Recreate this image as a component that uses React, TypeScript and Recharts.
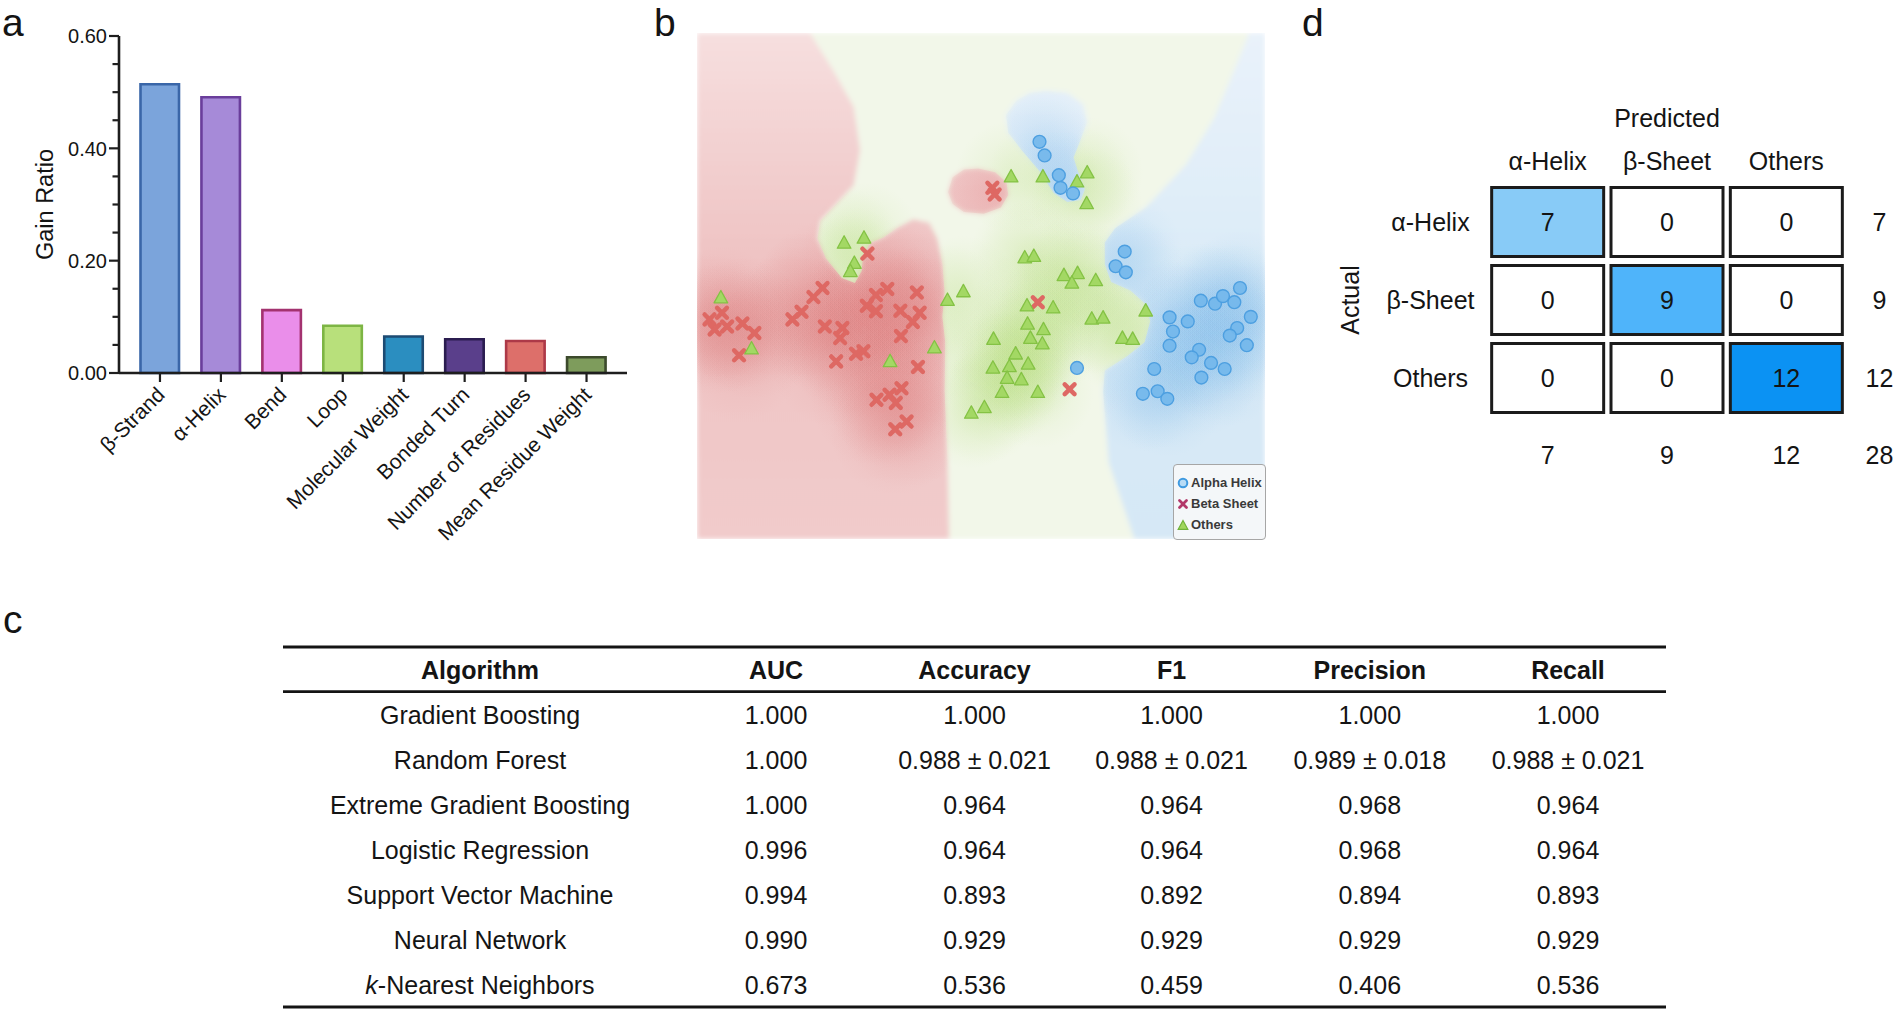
import React from "react";
import {
  Bar,
  BarChart,
  Cell,
  Legend,
  ReferenceArea,
  Scatter,
  ScatterChart,
  XAxis,
  YAxis,
} from "recharts";

const FONT = '"Liberation Sans", Arial, Helvetica, sans-serif';
const INK = "#141414";

// ---- panel a: gain ratio per feature ----
const features = [
  "β-Strand",
  "α-Helix",
  "Bend",
  "Loop",
  "Molecular Weight",
  "Bonded Turn",
  "Number of Residues",
  "Mean Residue Weight",
];
const gainRatios = [0.514, 0.491, 0.112, 0.084, 0.065, 0.06, 0.057, 0.028];
const gainTicks = [0, 0.05, 0.1, 0.15, 0.2, 0.25, 0.3, 0.35, 0.4, 0.45, 0.5, 0.55, 0.6];
const gainLabelTicks = [0, 0.2, 0.4, 0.6];

const barFills = ["#7ba4db", "#a68ad8", "#ea8eea", "#b8e07b", "#2b8ec0", "#5a3f8b", "#dd6f6a", "#7e9c5c"];
const barStrokes = ["#3a66a8", "#6a3e9b", "#a3326f", "#7db544", "#1d4b73", "#2b1d50", "#ad3948", "#3c4a2c"];

// ---- panel b: decision map (embedding units 0..100) ----
const helixPoints = [
  [60.3, 78.5], [61.2, 75.8], [63.7, 71.9], [64.0, 69.4], [66.2, 68.3],
  [75.3, 56.8], [73.7, 53.9], [75.5, 52.7], [66.9, 33.8], [95.6, 49.6],
  [88.7, 47.1], [91.2, 46.5], [92.6, 48.0], [94.6, 46.8], [97.5, 43.9],
  [83.2, 43.8], [86.4, 43.0], [83.8, 41.0], [95.1, 41.7], [93.8, 40.2],
  [96.8, 38.3], [83.2, 38.2], [88.4, 37.4], [87.1, 35.9], [90.5, 34.8],
  [92.9, 33.6], [80.5, 33.6], [88.8, 31.9], [78.5, 28.7], [81.1, 29.2],
  [82.8, 27.7],
].map(([x, y]) => ({ x, y }));

const sheetPoints = [
  [22.1, 49.6], [20.5, 47.8], [18.4, 44.9], [16.8, 43.4], [4.4, 44.7],
  [2.2, 43.4], [3.1, 41.4], [5.3, 42.0], [8.0, 42.6], [10.1, 40.7],
  [7.4, 36.3], [22.5, 42.0], [25.6, 41.7], [25.2, 39.7], [24.5, 35.1],
  [28.0, 36.6], [29.3, 37.1], [33.5, 49.4], [31.5, 48.2], [29.9, 46.1],
  [31.5, 45.0], [35.8, 45.1], [38.7, 48.7], [39.2, 44.7], [38.0, 42.9],
  [35.9, 40.1], [38.9, 34.0], [36.0, 29.8], [33.9, 28.5], [31.6, 27.5],
  [35.0, 26.9], [36.9, 23.2], [34.9, 21.7], [30.0, 56.4], [52.0, 69.4],
  [52.4, 68.1], [60.0, 46.8], [65.6, 29.6],
].map(([x, y]) => ({ x, y }));

const otherPoints = [
  [4.2, 47.7], [9.6, 37.6], [34.0, 35.1], [25.9, 58.5], [29.4, 59.5],
  [27.7, 54.5], [27.0, 52.9], [57.7, 55.6], [59.3, 55.9], [64.6, 52.1],
  [67.0, 52.5], [66.0, 50.6], [70.2, 51.1], [44.1, 47.2], [46.9, 48.9],
  [58.1, 46.1], [62.7, 45.7], [79.0, 45.1], [69.5, 43.5], [71.5, 43.7],
  [41.8, 37.8], [52.2, 39.5], [58.2, 42.5], [61.0, 41.4], [58.7, 39.7],
  [60.8, 38.6], [74.9, 39.7], [76.7, 39.5], [56.1, 36.6], [52.1, 33.8],
  [55.0, 34.1], [58.3, 34.6], [54.6, 31.8], [57.1, 31.5], [53.7, 29.0],
  [60.0, 29.0], [48.3, 24.9], [50.6, 26.0], [55.3, 71.6], [60.9, 71.6],
  [66.9, 70.6], [68.7, 72.4], [68.6, 66.3],
].map(([x, y]) => ({ x, y }));

// decision region outlines in the same embedding units
const sheetRegion = [
  [0, 100], [19.9, 100], [24.1, 92.4], [27.6, 85.4], [28.7, 76.9], [27.6, 69.9],
  [24.1, 65.7], [21.7, 62.9], [21.2, 59.4], [22.7, 55.5], [25.5, 51.6], [27.8, 50.6],
  [29.0, 53.0], [29.2, 56.2], [30.6, 58.6], [32.8, 59.6], [35.3, 61.5], [38.1, 63.2],
  [40.9, 62.5], [42.3, 59.4], [43.2, 54.5], [43.6, 48.8], [43.2, 43.9], [43.7, 39.0],
  [43.6, 29.1], [44.1, 15.1], [44.4, 0], [0, 0],
];
const sheetIsland = [
  [44.2, 68.6], [45.0, 71.5], [47.0, 73.0], [49.5, 73.2], [52.5, 72.5], [54.5, 70.5],
  [54.8, 68.0], [53.5, 65.5], [50.5, 64.3], [47.0, 64.6], [45.0, 66.2],
];
const helixRegion = [
  [97.2, 100], [100, 100], [100, 0], [77.0, 0], [72.5, 15.1], [71.5, 29.1], [71.8, 33.3],
  [75.7, 36.1], [78.8, 38.9], [79.8, 43.1], [78.8, 46.6], [76.3, 49.1], [72.9, 50.8],
  [71.8, 54.3], [71.8, 58.6], [73.6, 61.4], [79.1, 65.6], [86.1, 74.0], [91.0, 83.1],
  [94.4, 92.2],
];
const helixLobe = [
  [61.4, 88.6], [65.2, 88.2], [68.0, 85.9], [68.7, 82.4], [67.3, 78.2], [66.3, 75.4],
  [67.3, 71.9], [68.3, 69.1], [67.6, 67.0], [65.2, 66.6], [62.8, 68.4], [60.4, 72.6],
  [57.2, 76.8], [54.8, 80.3], [54.4, 83.8], [56.2, 86.6], [58.6, 88.2],
];

const legendEntries = ["Alpha Helix", "Beta Sheet", "Others"];

// ---- panel c: model comparison table ----
const tableHeaders = ["Algorithm", "AUC", "Accuracy", "F1", "Precision", "Recall"];
const algorithms = [
  "Gradient Boosting",
  "Random Forest",
  "Extreme Gradient Boosting",
  "Logistic Regression",
  "Support Vector Machine",
  "Neural Network",
  "k-Nearest Neighbors",
];
const aucValues = ["1.000", "1.000", "1.000", "0.996", "0.994", "0.990", "0.673"];
const accuracyValues = ["1.000", "0.988 ± 0.021", "0.964", "0.964", "0.893", "0.929", "0.536"];
const f1Values = ["1.000", "0.988 ± 0.021", "0.964", "0.964", "0.892", "0.929", "0.459"];
const precisionValues = ["1.000", "0.989 ± 0.018", "0.968", "0.968", "0.894", "0.929", "0.406"];
const recallValues = ["1.000", "0.988 ± 0.021", "0.964", "0.964", "0.893", "0.929", "0.536"];

// ---- panel d: confusion matrix ----
const classNames = ["α-Helix", "β-Sheet", "Others"];
const confusion = [
  [7, 0, 0],
  [0, 9, 0],
  [0, 0, 12],
];
const rowTotals = [7, 9, 12];
const colTotals = [7, 9, 12];
const grandTotal = 28;

const cellFills: Record<number, string> = { 0: "#ffffff", 7: "#88cbf7", 9: "#4fb4fa", 12: "#0b92f3" };

const gainData = features.map((feature, i) => ({ feature, gain: gainRatios[i] }));
const cellData = confusion.flatMap((row, r) =>
  row.map((count, c) => ({ predicted: c + 1, actual: r + 1, count }))
);

// ---------------- panel a ----------------
const GainTick = ({ x, y, payload }: any) => {
  const major = gainLabelTicks.some((t) => Math.abs(t - payload.value) < 1e-6);
  return (
    <g>
      <line x1={x - (major ? 10 : 6.5)} x2={x} y1={y} y2={y} stroke="#1e1e1e" strokeWidth={2.2} />
      {major && (
        <text x={x - 12} y={y} dy="0.36em" textAnchor="end" fontSize={20} fill={INK} fontFamily={FONT}>
          {payload.value.toFixed(2)}
        </text>
      )}
    </g>
  );
};

const FeatureTick = ({ x, y, payload }: any) => {
  const tx = x + 6;
  const ty = y + 23;
  return (
    <g>
      <line x1={x} x2={x} y1={y} y2={y + 9} stroke="#1e1e1e" strokeWidth={2.2} />
      <text
        x={tx}
        y={ty}
        textAnchor="end"
        transform={`rotate(-45 ${tx} ${ty})`}
        fontSize={21}
        fill={INK}
        fontFamily={FONT}
      >
        {payload.value}
      </text>
    </g>
  );
};

const GainLabel = ({ viewBox }: any) => {
  const cx = viewBox.x + 45;
  const cy = viewBox.y + viewBox.height / 2;
  return (
    <text
      x={cx}
      y={cy}
      dy="0.36em"
      textAnchor="middle"
      transform={`rotate(-90 ${cx} ${cy})`}
      fontSize={23.5}
      fill={INK}
      fontFamily={FONT}
    >
      Gain Ratio
    </text>
  );
};

const GainRatioChart = () => (
  <BarChart width={640} height={560} data={gainData} margin={{ top: 36, right: 13, bottom: 0, left: 0 }}>
    <XAxis
      dataKey="feature"
      height={187}
      interval={0}
      padding={{ left: 10.5, right: 10 }}
      tickSize={0}
      tickMargin={0}
      tickLine={false}
      axisLine={{ stroke: "#1e1e1e", strokeWidth: 2.6 }}
      tick={FeatureTick}
    />
    <YAxis
      type="number"
      domain={[0, 0.6]}
      ticks={gainTicks}
      interval={0}
      width={119}
      tickSize={0}
      tickMargin={0}
      tickLine={false}
      axisLine={{ stroke: "#1e1e1e", strokeWidth: 2.6 }}
      tick={GainTick}
      label={GainLabel}
    />
    <Bar dataKey="gain" barSize={38.5} strokeWidth={2.6} isAnimationActive={false}>
      {gainData.map((d, i) => (
        <Cell key={d.feature} fill={barFills[i]} stroke={barStrokes[i]} />
      ))}
    </Bar>
  </BarChart>
);

// ---------------- panel b ----------------
const RegionLayer = ({ x, y, width, height }: any) => {
  const toPath = (poly: number[][]) =>
    poly
      .map(([px, py], i) => `${i ? "L" : "M"}${x + (px / 100) * width},${y + (1 - py / 100) * height}`)
      .join("") + "Z";
  const sheet = toPath(sheetRegion) + toPath(sheetIsland);
  const helix = toPath(helixRegion) + toPath(helixLobe);
  const plot = `M${x},${y}h${width}v${height}h${-width}Z`;
  return (
    <g>
      <defs>
        <clipPath id="clip-plot">
          <path d={plot} />
        </clipPath>
        <clipPath id="clip-sheet">
          <path d={sheet} />
        </clipPath>
        <clipPath id="clip-helix">
          <path d={helix} />
        </clipPath>
        <clipPath id="clip-other">
          <path d={plot + sheet + helix} clipRule="evenodd" />
        </clipPath>
        <linearGradient id="base-sheet" x1="0" y1="0" x2="0" y2="1">
          <stop offset="0%" stopColor="#f6dfdf" />
          <stop offset="45%" stopColor="#efc3c3" />
          <stop offset="100%" stopColor="#f1cbcb" />
        </linearGradient>
        <linearGradient id="base-helix" x1="0" y1="0" x2="0" y2="1">
          <stop offset="0%" stopColor="#e9f2fa" />
          <stop offset="55%" stopColor="#d9eaf7" />
          <stop offset="100%" stopColor="#d6e8f6" />
        </linearGradient>
        <radialGradient id="glow-sheet">
          <stop offset="0%" stopColor="#d86a6a" stopOpacity={0.13} />
          <stop offset="100%" stopColor="#d86a6a" stopOpacity={0} />
        </radialGradient>
        <radialGradient id="glow-helix">
          <stop offset="0%" stopColor="#7db9e8" stopOpacity={0.16} />
          <stop offset="100%" stopColor="#7db9e8" stopOpacity={0} />
        </radialGradient>
        <radialGradient id="glow-other">
          <stop offset="0%" stopColor="#b9de82" stopOpacity={0.21} />
          <stop offset="100%" stopColor="#b9de82" stopOpacity={0} />
        </radialGradient>
        <filter id="soften" x="-5%" y="-5%" width="110%" height="110%">
          <feGaussianBlur stdDeviation="2.5" />
        </filter>
      </defs>
      <g clipPath="url(#clip-plot)">
        <g filter="url(#soften)">
          <path d={plot} fill="#f2f7e9" />
          <path d={sheet} fill="url(#base-sheet)" />
          <path d={helix} fill="url(#base-helix)" />
        </g>
      </g>
    </g>
  );
};

const glowShape = (kind: string, r: number) => ({ cx, cy }: any) => (
  <circle cx={cx} cy={cy} r={r} fill={`url(#glow-${kind})`} clipPath={`url(#clip-${kind})`} />
);

const HelixDot = ({ cx, cy }: any) => (
  <circle cx={cx} cy={cy} r={6.4} fill="#73b7ec" fillOpacity={0.92} stroke="#4d9fe0" strokeWidth={1.4} />
);

const SheetCross = ({ cx, cy }: any) => {
  const s = 4.9;
  return (
    <g stroke="#de6863" strokeWidth={4.5} strokeLinecap="round">
      <line x1={cx - s} y1={cy - s} x2={cx + s} y2={cy + s} />
      <line x1={cx - s} y1={cy + s} x2={cx + s} y2={cy - s} />
    </g>
  );
};

const OtherTriangle = ({ cx, cy }: any) => (
  <path
    d={`M${cx},${cy - 7.2}L${cx + 6.8},${cy + 5.2}L${cx - 6.8},${cy + 5.2}Z`}
    fill="#a3d864"
    stroke="#84c244"
    strokeWidth={1.3}
    strokeLinejoin="round"
  />
);

const legendIcon = (name: string) => {
  if (name === "Alpha Helix") return <circle cx={6} cy={6} r={4.3} fill="#b8dcf6" stroke="#3f9ae0" strokeWidth={2} />;
  if (name === "Beta Sheet")
    return (
      <g stroke="#b2386a" strokeWidth={2.8} strokeLinecap="round">
        <line x1={2.5} y1={2.5} x2={9.5} y2={9.5} />
        <line x1={2.5} y1={9.5} x2={9.5} y2={2.5} />
      </g>
    );
  return <path d="M6,1.5L10.8,10.3L1.2,10.3Z" fill="#a0d65e" stroke="#6fb23a" strokeWidth={1.2} />;
};

const ClassLegend = () => (
  <div
    style={{
      width: 93,
      height: 76,
      boxSizing: "border-box",
      border: "1.5px solid #a6a6a6",
      borderRadius: 4,
      background: "rgba(246,247,248,0.92)",
      padding: "7px 0 0 3px",
      fontFamily: FONT,
    }}
  >
    {legendEntries.map((name) => (
      <div
        key={name}
        style={{ display: "flex", alignItems: "center", height: 21, fontSize: 13, fontWeight: 600, color: "#3a3a3a" }}
      >
        <svg width={12} height={12} style={{ marginRight: 2 }}>
          {legendIcon(name)}
        </svg>
        {name}
      </div>
    ))}
  </div>
);

const DecisionMapChart = () => (
  <ScatterChart width={568} height={506} margin={{ top: 0, right: 0, bottom: 0, left: 0 }}>
    <XAxis type="number" dataKey="x" domain={[0, 100]} allowDataOverflow hide />
    <YAxis type="number" dataKey="y" domain={[0, 100]} allowDataOverflow hide />
    <ReferenceArea x1={0} x2={100} y1={0} y2={100} shape={RegionLayer} />
    <Scatter data={sheetPoints} shape={glowShape("sheet", 66)} isAnimationActive={false} legendType="none" />
    <Scatter data={otherPoints} shape={glowShape("other", 56)} isAnimationActive={false} legendType="none" />
    <Scatter data={helixPoints} shape={glowShape("helix", 58)} isAnimationActive={false} legendType="none" />
    <Scatter name="Beta Sheet" data={sheetPoints} shape={SheetCross} isAnimationActive={false} />
    <Scatter name="Others" data={otherPoints} shape={OtherTriangle} isAnimationActive={false} />
    <Scatter name="Alpha Helix" data={helixPoints} shape={HelixDot} isAnimationActive={false} />
    <Legend
      layout="vertical"
      align="center"
      verticalAlign="middle"
      content={ClassLegend}
      wrapperStyle={{ left: 476, top: 431, width: 93, height: 76 }}
    />
  </ScatterChart>
);

// ---------------- panel d ----------------
const MatrixCell = ({ cx, cy, payload }: any) => (
  <g>
    <rect
      x={cx - 56}
      y={cy - 34.5}
      width={112}
      height={69}
      fill={cellFills[payload.count] ?? "#ffffff"}
      stroke="#1b1b1b"
      strokeWidth={3}
    />
    <text x={cx} y={cy} dy="0.36em" textAnchor="middle" fontSize={25} fill={INK} fontFamily={FONT}>
      {payload.count}
    </text>
  </g>
);

const NoShape = () => <g />;

const matrixText = (x: number, y: number, value: string | number, key?: string) => (
  <text key={key} x={x} y={y} dy="0.36em" textAnchor="middle" fontSize={25} fill={INK} fontFamily={FONT}>
    {value}
  </text>
);

const HeaderTick = ({ x, y, payload }: any) => matrixText(x, y - 22, classNames[payload.value - 1]);
const RowLabelTick = ({ x, y, payload }: any) => matrixText(x - 57.5, y, classNames[payload.value - 1]);
const RowTotalTick = ({ x, y, payload }: any) => matrixText(x + 33.5, y, rowTotals[payload.value - 1]);
const ColTotalTick = ({ x, y, payload }: any) => matrixText(x, y + 38, colTotals[payload.value - 1]);

const PredictedLabel = ({ viewBox }: any) => matrixText(viewBox.x + viewBox.width / 2, viewBox.y + 38.3, "Predicted");
const GrandTotalLabel = ({ viewBox }: any) =>
  matrixText(viewBox.x + viewBox.width + 33.5, viewBox.y + 38, grandTotal);
const ActualLabel = ({ viewBox }: any) => {
  const cx = viewBox.x + 50;
  const cy = viewBox.y + viewBox.height / 2;
  return (
    <text
      x={cx}
      y={cy}
      dy="0.36em"
      textAnchor="middle"
      transform={`rotate(-90 ${cx} ${cy})`}
      fontSize={25}
      fill={INK}
      fontFamily={FONT}
    >
      Actual
    </text>
  );
};

const axisCommon = {
  type: "number" as const,
  domain: [0.5, 3.5] as [number, number],
  allowDataOverflow: true,
  ticks: [1, 2, 3],
  interval: 0 as const,
  axisLine: false,
  tickLine: false,
  tickSize: 0,
  tickMargin: 0,
};

const ConfusionMatrix = () => (
  <ScatterChart width={596} height={397} margin={{ top: 0, right: 0, bottom: 0, left: 0 }}>
    <XAxis xAxisId="top" orientation="top" dataKey="predicted" height={103} tick={HeaderTick} label={PredictedLabel} {...axisCommon} />
    <XAxis xAxisId="bottom" orientation="bottom" dataKey="predicted" height={60} tick={ColTotalTick} label={GrandTotalLabel} {...axisCommon} />
    <YAxis yAxisId="left" orientation="left" dataKey="actual" width={188} reversed tick={RowLabelTick} label={ActualLabel} {...axisCommon} />
    <YAxis yAxisId="right" orientation="right" dataKey="actual" width={50} reversed tick={RowTotalTick} {...axisCommon} />
    <Scatter xAxisId="top" yAxisId="left" data={cellData} shape={MatrixCell} isAnimationActive={false} />
    <Scatter xAxisId="bottom" yAxisId="right" data={cellData} shape={NoShape} isAnimationActive={false} />
  </ScatterChart>
);

// ---------------- panel c + panel letters ----------------
const columnCenters = [480, 776, 974.5, 1171.5, 1369.8, 1568];
const tableColumns = [algorithms, aucValues, accuracyValues, f1Values, precisionValues, recallValues];

const renderCellText = (value: string) =>
  value.startsWith("k-") ? (
    <>
      <tspan fontStyle="italic">k</tspan>
      {value.slice(1)}
    </>
  ) : (
    value
  );

const FigureText = () => (
  <svg width={1896} height={1017} style={{ position: "absolute", left: 0, top: 0 }} fontFamily={FONT}>
    <g fontSize={39} fill={INK}>
      <text x={2} y={36}>a</text>
      <text x={654} y={36}>b</text>
      <text x={3} y={633}>c</text>
      <text x={1302} y={36}>d</text>
    </g>
    <line x1={283} x2={1666} y1={647} y2={647} stroke={INK} strokeWidth={3} />
    <line x1={283} x2={1666} y1={691.6} y2={691.6} stroke={INK} strokeWidth={2.6} />
    <line x1={283} x2={1666} y1={1007} y2={1007} stroke={INK} strokeWidth={3} />
    {tableHeaders.map((h, c) => (
      <text key={h} x={columnCenters[c]} y={670} dy="0.36em" textAnchor="middle" fontSize={25} fontWeight={700} fill={INK}>
        {h}
      </text>
    ))}
    {tableColumns.map((col, c) =>
      col.map((value, r) => (
        <text
          key={`${c}-${r}`}
          x={columnCenters[c]}
          y={714.5 + r * 45.1}
          dy="0.36em"
          textAnchor="middle"
          fontSize={25}
          fill={INK}
        >
          {renderCellText(value)}
        </text>
      ))
    )}
  </svg>
);

export default function App() {
  return (
    <div
      style={{
        position: "absolute",
        left: 0,
        top: 0,
        width: 1896,
        height: 1017,
        background: "#ffffff",
        fontFamily: FONT,
        overflow: "hidden",
      }}
    >
      <FigureText />
      <div style={{ position: "absolute", left: 0, top: 0 }}>
        <GainRatioChart />
      </div>
      <div style={{ position: "absolute", left: 697, top: 33 }}>
        <DecisionMapChart />
      </div>
      <div style={{ position: "absolute", left: 1300, top: 80 }}>
        <ConfusionMatrix />
      </div>
    </div>
  );
}
